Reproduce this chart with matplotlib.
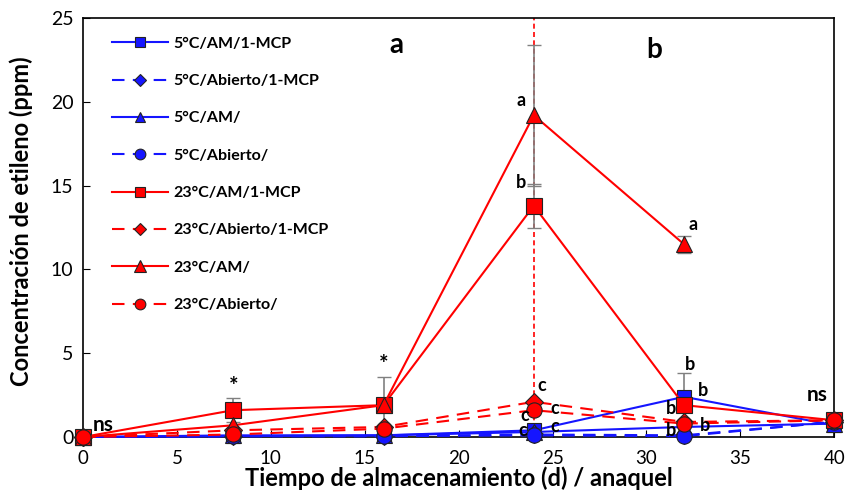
import matplotlib
matplotlib.use("Agg")
import matplotlib.pyplot as plt
import numpy as np

plt.rcParams['font.family'] = ['Lato', 'DejaVu Sans']

days = [0, 8, 16, 24, 32, 40]
days_tri23 = [0, 8, 16, 24, 32]

b_sq = [0, 0.05, 0.1, 0.4, 2.4, 0.7]
b_di = [0, 0.05, 0.05, 0.15, 0.1, 0.9]
b_tr = [0, 0.1, 0.1, 0.3, 0.6, 0.8]
b_ci = [0, 0.05, 0.05, 0.1, 0.05, 0.9]
r_sq = [0, 1.6, 1.9, 13.8, 1.9, 1.0]
r_di = [0, 0.4, 0.6, 2.1, 0.9, 1.0]
r_tr = [0, 0.7, 1.9, 19.2, 11.5]
r_ci = [0, 0.15, 0.5, 1.6, 0.8, 1.0]

# error bars (x, y, err)
err_x = [8, 16, 24, 24, 32, 32]
err_y = [1.6, 1.9, 19.2, 13.8, 2.4, 11.5]
err_v = [0.7, 1.7, 4.2, 1.3, 1.4, 0.5]

labels = ["5°C/AM/1-MCP", "5°C/Abierto/1-MCP", "5°C/AM/", "5°C/Abierto/",
          "23°C/AM/1-MCP", "23°C/Abierto/1-MCP", "23°C/AM/", "23°C/Abierto/"]

fig = plt.figure(figsize=(8.47, 4.97), dpi=100)
ax = fig.add_axes([0.098, 0.1207, 0.887, 0.843])

ax.axvline(24, color='red', ls=(0, (3, 2)), lw=1.2, zorder=1)
ax.errorbar(err_x, err_y, yerr=err_v, fmt='none', ecolor='grey', elinewidth=1.2,
            capsize=5, zorder=2)

blue = '#1515ff'
red = '#ff0000'
series = [
    (days, b_sq, blue, '-', 's', 10),
    (days, b_di, blue, (0, (6, 4)), 'D', 9),
    (days, b_tr, blue, '-', '^', 11),
    (days, b_ci, blue, (0, (6, 4)), 'o', 11),
    (days, r_sq, red, '-', 's', 11),
    (days, r_di, red, (0, (6, 4)), 'D', 9),
    (days_tri23, r_tr, red, '-', '^', 12),
    (days, r_ci, red, (0, (6, 4)), 'o', 11),
]
for (x, y, c, ls, m, ms), lab in zip(series, labels):
    ax.plot(x, y, color=c, ls=ls, lw=1.5, marker=m, ms=ms, mfc=c,
            mec='#222222', mew=0.8, label=lab, zorder=3, clip_on=False)

ax.set_xlim(0, 40)
ax.set_ylim(0, 25)
ax.set_xticks(np.arange(0, 41, 5))
ax.set_yticks(np.arange(0, 26, 5))
ax.tick_params(direction='in', labelsize=14, length=5, pad=7)
ax.tick_params(axis='x', labelsize=13.5, pad=9)
for s in ax.spines.values():
    s.set_linewidth(1.2)

ax.set_xlabel("Tiempo de almacenamiento (d) / anaquel", fontsize=17, fontweight='bold', labelpad=0)
ax.set_ylabel("Concentración de etileno (ppm)", fontsize=17, fontweight='bold')
ax.yaxis.set_label_coords(-0.066, 0.515)

leg = ax.legend(loc='upper left', bbox_to_anchor=(0.02, 0.99), frameon=False,
                handlelength=3.5, labelspacing=1.45, markerscale=0.7,
                handletextpad=0.3, prop={'weight': 'bold', 'size': 11.5})

tk = dict(fontweight='bold', ha='center', va='center')
ax.text(16.7, 23.4, 'a', fontsize=20, **tk)
ax.text(30.4, 23.1, 'b', fontsize=20, **tk)
ax.text(23.3, 20.1, 'a', fontsize=13, **tk)
ax.text(23.3, 15.2, 'b', fontsize=13, **tk)
ax.text(32.5, 12.7, 'a', fontsize=13, **tk)
ax.text(1.1, 0.7, 'ns', fontsize=15, **tk)
ax.text(39.1, 2.5, 'ns', fontsize=15, **tk)
ax.text(8, 3.0, '*', fontsize=16, **tk)
ax.text(16, 4.3, '*', fontsize=16, **tk)
for (x, y) in [(24.4, 3.1), (25.1, 1.7), (23.5, 1.3), (25.1, 0.6), (23.4, 0.4)]:
    ax.text(x, y, 'c', fontsize=13, **tk)
for (x, y) in [(32.3, 4.3), (33.0, 2.8), (31.3, 1.7), (33.1, 0.7), (31.3, 0.4)]:
    ax.text(x, y, 'b', fontsize=13, **tk)

fig.savefig("out.png", dpi=100)
